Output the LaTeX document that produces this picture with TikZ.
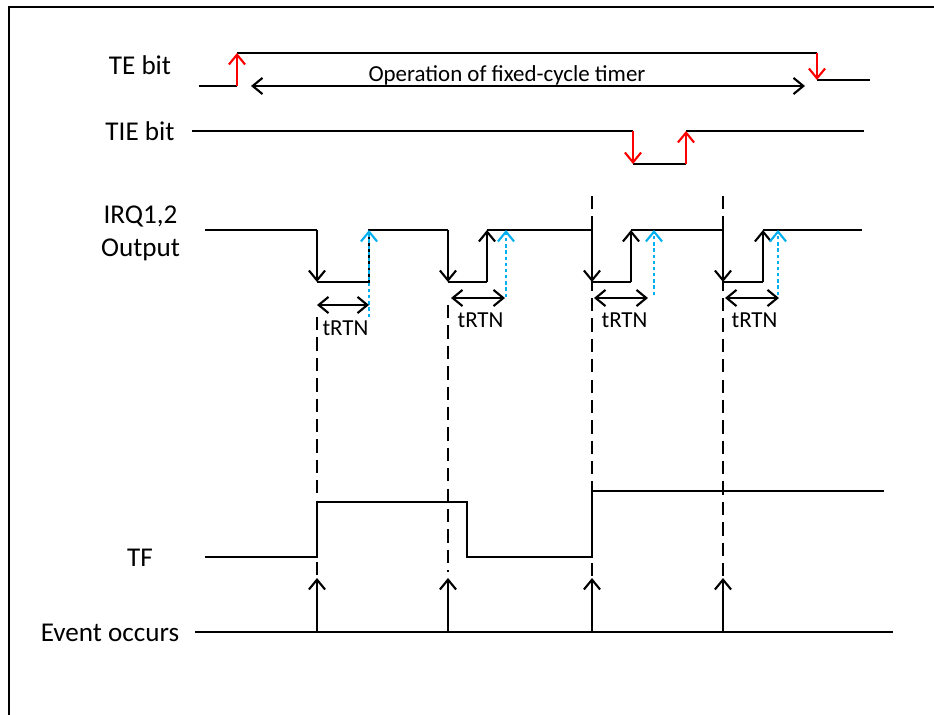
\documentclass[tikz,border=0pt]{standalone}
\usepackage{fontspec}
\setmainfont{Carlito}
\usetikzlibrary{arrows.meta}
\definecolor{irqblue}{RGB}{0,176,240}

\begin{document}
\begin{tikzpicture}[
  x=0.025cm, y=-0.025cm,
  wave/.style = {line width=1.5pt},
  edge/.style = {line width=1.5pt, -{Straight Barb[length=7pt, width=11.5pt]}},
  red edge/.style  = {edge, draw=red},
  blue edge/.style = {edge, draw=irqblue, dash pattern=on 2.4pt off 2pt},
  span/.style = {line width=1.5pt,
    {Straight Barb[length=7pt, width=11.5pt]}-{Straight Barb[length=7pt, width=11.5pt]}},
  marker/.style = {line width=1.5pt, dash pattern=on 9.5pt off 5pt},
  sig label/.style = {font=\fontsize{19.3}{23.5}\selectfont, anchor=base, align=center},
  time label/.style = {font=\fontsize{16.3}{19}\selectfont, anchor=base},
]
\useasboundingbox (0,0) rectangle (934,715);
\draw[line width=1.5pt] (9,720) |- (940,7);

% signal names
\node[sig label] (te-name)  at (140,75)  {TE bit};
\node[sig label] (tie-name) at (140,141) {TIE bit};
\node[sig label] (irq-name) at (140.5,257) {IRQ1,2\\Output};
\node[sig label] (tf-name)  at (140,566) {TF};
\node[sig label] (ev-name)  at (110,641) {Event occurs};

% TE bit
\draw[wave] (199,86) -- (237,86);
\draw[wave] (237,53) -- (817,53);
\draw[wave] (817,80) -- (870,80);
\draw[red edge] (237,86) -- (237,53);
\draw[red edge] (817,53) -- (817,80);
\draw[span] (251,86) -- (805,86);
\node[time label] (timer) at (507,82) {Operation of fixed-cycle timer};

% TIE bit
\draw[wave] (192,131) -- (633,131);
\draw[wave] (633,164) -- (686,164);
\draw[wave] (686,131) -- (864,131);
\draw[red edge] (633,131) -- (633,164);
\draw[red edge] (686,164) -- (686,131);

% IRQ1,2 output
\draw[wave] (205,230) -- (317,230);
\draw[edge] (317,230) -- (317,282);
\draw[wave] (317,282) -- (369,282) -- (369,230) -- (448,230);
\draw[edge] (448,230) -- (448,282);
\draw[wave] (448,282) -- (487,282);
\draw[edge] (487,282) -- (487,230);
\draw[wave] (487,230) -- (592,230);
\draw[edge] (592,230) -- (592,282);
\draw[wave] (592,282) -- (631,282);
\draw[edge] (631,282) -- (631,230);
\draw[wave] (631,230) -- (723,230);
\draw[edge] (723,230) -- (723,282);
\draw[wave] (723,282) -- (763,282);
\draw[edge] (763,282) -- (763,230);
\draw[wave] (763,230) -- (862,230);

\draw[blue edge] (369,317) -- (369,230);
\draw[blue edge] (506,297) -- (506,230);
\draw[blue edge] (654,295) -- (654,230);
\draw[blue edge] (778,295) -- (778,230);

\draw[span] (317,305) -- (369,305);
\draw[span] (451,298) -- (505,298);
\draw[span] (594,298) -- (648,298);
\draw[span] (725,298) -- (779,298);
\node[time label] (rtn-1) at (345.5,336) {tRTN};
\node[time label] (rtn-2) at (480.5,327) {tRTN};
\node[time label] (rtn-3) at (624.5,328) {tRTN};
\node[time label] (rtn-4) at (754.5,328) {tRTN};

% event markers
\draw[marker] (317,317) -- (317,578);
\draw[marker] (448,305) -- (448,572);
\draw[marker] (592,196) -- (592,578);
\draw[marker] (723,196) -- (723,578);

% TF
\draw[wave] (205,557) -- (317,557) -- (317,502) -- (467,502) -- (467,557)
  -- (592,557) -- (592,491) -- (884,491);

% events
\draw[wave] (195,632) -- (893,632);
\foreach \t in {317,448,592,723}
  \draw[edge] (\t,632) -- (\t,578);

\end{tikzpicture}
\end{document}
